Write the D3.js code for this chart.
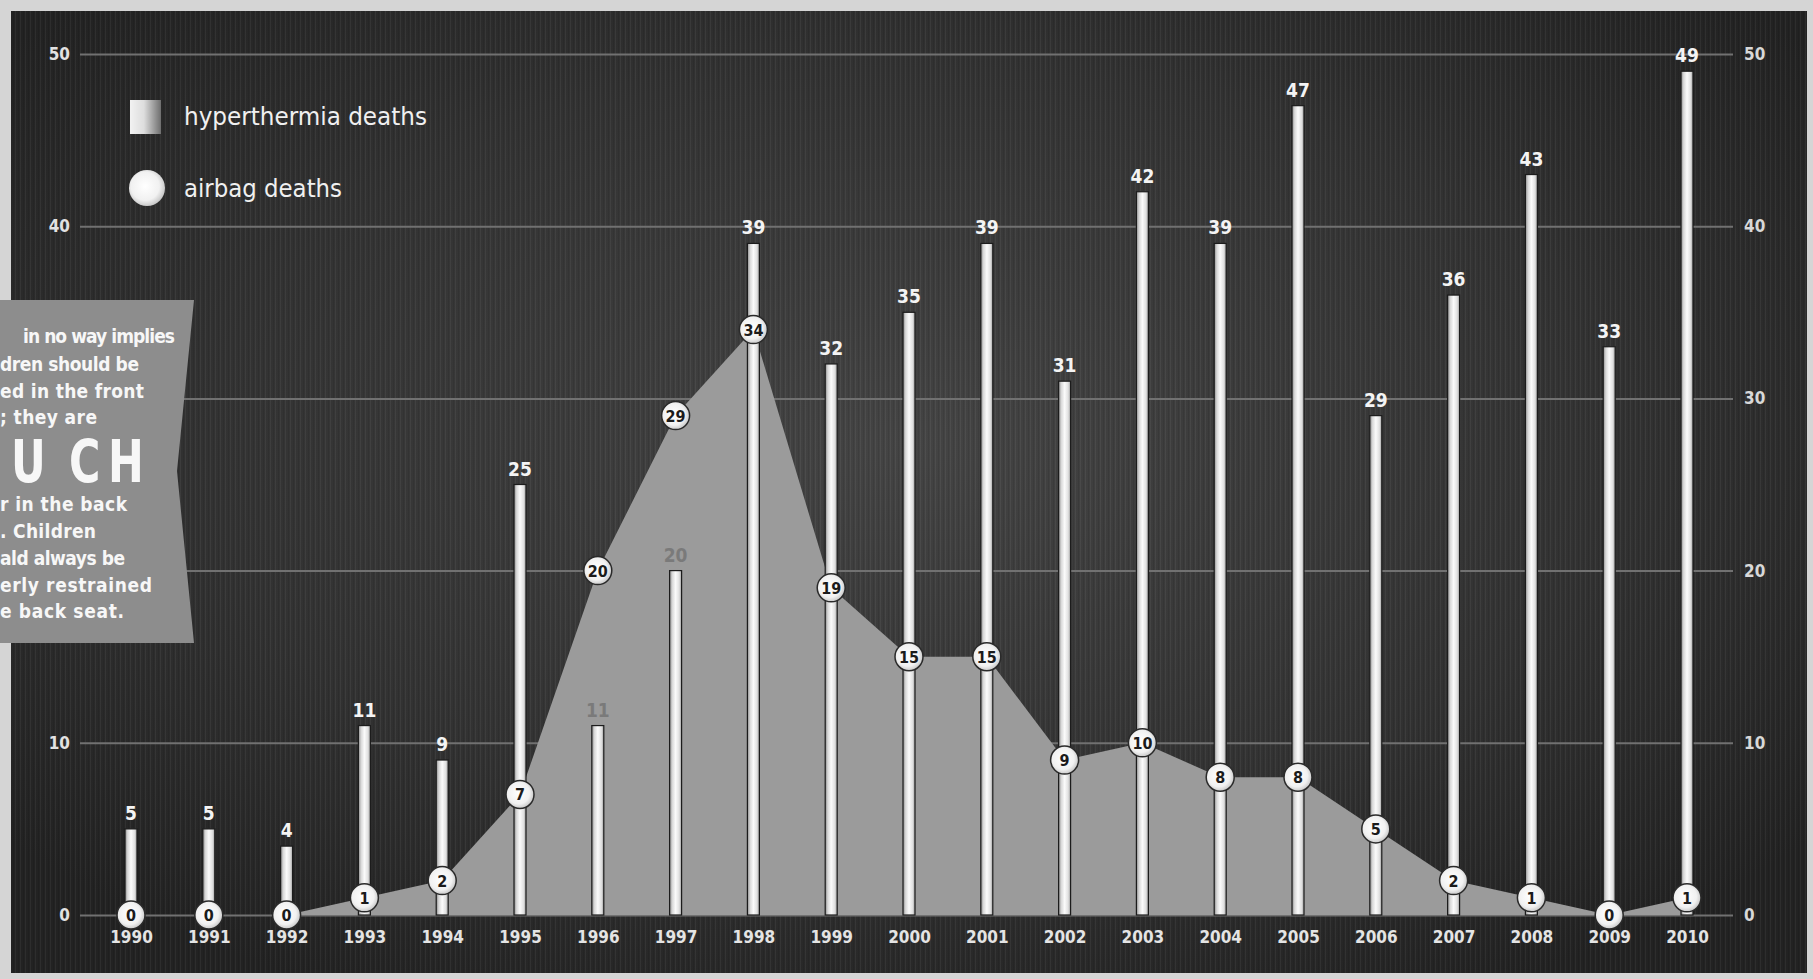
<!DOCTYPE html>
<html>
<head>
<meta charset="utf-8">
<script src="https://cdn.jsdelivr.net/npm/d3@7"></script>
<style>
  html, body { margin: 0; padding: 0; background: #d5d5d5; }
  svg { display: block; }
  text { font-family: "DejaVu Sans Condensed", "DejaVu Sans", sans-serif; }
</style>
</head>
<body>
<svg id="chart" width="1813" height="979"></svg>
<script>
// ---------- data ----------
const years = ["1990","1991","1992","1993","1994","1995","1996","1997","1998","1999","2000",
               "2001","2002","2003","2004","2005","2006","2007","2008","2009","2010"];
const hyperthermiaDeaths = [5,5,4,11,9,25,11,20,39,32,35,39,31,42,39,47,29,36,43,33,49];
const airbagDeaths = [0,0,0,1,2,7,20,29,34,19,15,15,9,10,8,8,5,2,1,0,1];
const yTickValues = [0,10,20,30,40,50];
const leftLabelValues = [0,10,40,50];   // 20 and 30 are hidden behind the callout box
const legendLabels = ["hyperthermia deaths", "airbag deaths"];
const calloutLines = ["in no way implies", "dren should be", "ed in the front", "; they are",
                      "UCH", "r in the back", ". Children", "ald always be", "erly restrained", "e back seat."];

// ---------- layout ----------
const W = 1813, H = 979;
const panel = {x: 11, y: 11, w: 1796, h: 962};
const svg = d3.select("#chart");
const defs = svg.append("defs");

const x = d3.scalePoint().domain(years).range([131, 1687]);
const y = d3.scaleLinear().domain([0, 50]).range([915, 54]);

// gradients
const bg = defs.append("radialGradient").attr("id", "bgGrad")
  .attr("cx", "50%").attr("cy", "45%").attr("r", "65%");
bg.append("stop").attr("offset", "0%").attr("stop-color", "#444444");
bg.append("stop").attr("offset", "60%").attr("stop-color", "#323232");
bg.append("stop").attr("offset", "100%").attr("stop-color", "#222222");

const tex = defs.append("pattern").attr("id", "texture").attr("patternUnits", "userSpaceOnUse")
  .attr("width", 5).attr("height", 7);
tex.append("rect").attr("x", 0).attr("y", 0).attr("width", 1).attr("height", 7).attr("fill", "rgba(255,255,255,0.05)");
tex.append("rect").attr("x", 3).attr("y", 0).attr("width", 1).attr("height", 7).attr("fill", "rgba(0,0,0,0.08)");

const barGrad = defs.append("linearGradient").attr("id", "barGrad").attr("x1", "0").attr("x2", "1").attr("y1", "0").attr("y2", "0");
[["0%", "#8a8a8a"], ["22%", "#d8d8d8"], ["50%", "#fbfbfb"], ["80%", "#e0e0e0"], ["100%", "#9e9e9e"]]
  .forEach(([o, c]) => barGrad.append("stop").attr("offset", o).attr("stop-color", c));

const legGrad = defs.append("linearGradient").attr("id", "legGrad").attr("x1", "0").attr("x2", "1");
[["0%", "#f2f2f2"], ["45%", "#dddddd"], ["100%", "#6e6e6e"]]
  .forEach(([o, c]) => legGrad.append("stop").attr("offset", o).attr("stop-color", c));

const dotGrad = defs.append("radialGradient").attr("id", "dotGrad").attr("cx", "45%").attr("cy", "45%").attr("r", "60%");
[["0%", "#ffffff"], ["65%", "#f1f1f1"], ["100%", "#bdbdbd"]]
  .forEach(([o, c]) => dotGrad.append("stop").attr("offset", o).attr("stop-color", c));

// panel
svg.append("rect").attr("x", 0).attr("y", 0).attr("width", W).attr("height", H).attr("fill", "#d5d5d5");
svg.append("rect").attr("x", panel.x).attr("y", panel.y).attr("width", panel.w).attr("height", panel.h).attr("fill", "url(#bgGrad)");
svg.append("rect").attr("x", panel.x).attr("y", panel.y).attr("width", panel.w).attr("height", panel.h).attr("fill", "url(#texture)");

// left axis with gridlines
const gridLeft = 80, gridRight = 1733;
const leftAxis = svg.append("g").attr("transform", `translate(${gridLeft},0)`)
  .call(d3.axisLeft(y).tickValues(yTickValues).tickSize(-(gridRight - gridLeft)).tickPadding(10)
    .tickFormat(v => leftLabelValues.includes(v) ? String(v) : ""));
leftAxis.select(".domain").remove();
leftAxis.selectAll(".tick line").attr("stroke", "#717171").attr("stroke-width", 2);
leftAxis.selectAll(".tick text").filter(function() { return this.textContent === ""; }).remove();
leftAxis.selectAll(".tick text").attr("fill", "#e2e2e2").attr("font-size", 17).attr("font-weight", "bold")
  .attr("font-family", "DejaVu Sans Condensed, sans-serif");

const rightAxis = svg.append("g").attr("transform", `translate(${gridRight},0)`)
  .call(d3.axisRight(y).tickValues(yTickValues).tickSize(0).tickPadding(11));
rightAxis.select(".domain").remove();
rightAxis.selectAll(".tick text").attr("fill", "#d8d8d8").attr("font-size", 17).attr("font-weight", "bold")
  .attr("font-family", "DejaVu Sans Condensed, sans-serif");

// airbag area
const rows = years.map((yr, i) => ({year: yr, hyper: hyperthermiaDeaths[i], airbag: airbagDeaths[i]}));
const area = d3.area().x(d => x(d.year)).y0(y(0)).y1(d => y(d.airbag));
svg.append("path").datum(rows).attr("d", area).attr("fill", "#9b9b9b");

// bars
const barW = 12;
svg.append("g").selectAll("rect").data(rows).join("rect")
  .attr("x", d => x(d.year) - barW / 2)
  .attr("y", d => y(d.hyper))
  .attr("width", barW)
  .attr("height", d => y(0) - y(d.hyper))
  .attr("fill", "url(#barGrad)")
  .attr("stroke", "#1c1c1c").attr("stroke-width", 1.2);

// bar value labels
svg.append("g").selectAll("text").data(rows).join("text")
  .attr("x", d => x(d.year))
  .attr("y", d => y(d.hyper) - 9)
  .attr("text-anchor", "middle")
  .attr("font-size", 19).attr("font-weight", "bold")
  .attr("fill", d => d.hyper < d.airbag ? "#7a7a7a" : "#f4f4f4")
  .text(d => d.hyper);

// airbag dots
const dots = svg.append("g").selectAll("g").data(rows).join("g")
  .attr("transform", d => `translate(${x(d.year)},${y(d.airbag)})`);
dots.append("circle").attr("r", 14).attr("fill", "url(#dotGrad)").attr("stroke", "#2a2a2a").attr("stroke-width", 1.5);
dots.append("text").attr("text-anchor", "middle").attr("y", 6)
  .attr("font-size", 16).attr("font-weight", "bold").attr("fill", "#1b1b1b")
  .text(d => d.airbag);

// x axis (years)
const xAxis = svg.append("g").attr("transform", `translate(0,${y(0)})`)
  .call(d3.axisBottom(x).tickSize(0).tickPadding(16));
xAxis.select(".domain").remove();
xAxis.selectAll(".tick text").attr("fill", "#e4e4e4").attr("font-size", 17).attr("font-weight", "bold")
  .attr("font-family", "DejaVu Sans Condensed, sans-serif");

// legend
const leg = svg.append("g");
leg.append("rect").attr("x", 130).attr("y", 100).attr("width", 31).attr("height", 34).attr("fill", "url(#legGrad)");
leg.append("text").attr("x", 184).attr("y", 125).attr("font-size", 24).attr("fill", "#f0f0f0")
  .attr("textLength", 243).attr("lengthAdjust", "spacingAndGlyphs").text(legendLabels[0]);
leg.append("circle").attr("cx", 147).attr("cy", 188).attr("r", 18).attr("fill", "url(#dotGrad)");
leg.append("text").attr("x", 184).attr("y", 197).attr("font-size", 24).attr("fill", "#f0f0f0")
  .attr("textLength", 158).attr("lengthAdjust", "spacingAndGlyphs").text(legendLabels[1]);

// callout box
const box = svg.append("g");
box.append("path").attr("d", "M0,300 L194,300 L177,471 L194,643 L0,643 Z").attr("fill", "#8d8d8d");
const bigScale = 0.82;
const lineSpec = [
  {x: 23, y: 343, w: 152}, {x: 0, y: 371, w: 139}, {x: 0, y: 398, w: 144}, {x: 0, y: 424, w: 97},
  {x: 12, y: 482, big: true, letterX: [11, 69, 108]},
  {x: 0, y: 511, w: 127}, {x: 0, y: 538, w: 96}, {x: 0, y: 565, w: 125}, {x: 0, y: 592, w: 152}, {x: 0, y: 618, w: 124}
];
box.selectAll("text").data(calloutLines).join("text")
  .attr("x", (d, i) => lineSpec[i].big ? lineSpec[i].x / bigScale : lineSpec[i].x)
  .attr("y", (d, i) => lineSpec[i].y)
  .attr("transform", (d, i) => lineSpec[i].big ? `scale(${bigScale},1)` : null)
  .attr("font-weight", "bold")
  .attr("font-size", (d, i) => lineSpec[i].big ? 58 : 19)
  .attr("fill", "#f7f7f7")
  .each(function(d, i) {
    const spec = lineSpec[i];
    const t = d3.select(this);
    if (spec.big) {
      t.selectAll("tspan").data(d.split("")).join("tspan")
        .attr("x", (c, j) => spec.letterX[j] / bigScale)
        .text(c => c);
    } else {
      t.attr("textLength", spec.w).attr("lengthAdjust", "spacing").text(d);
    }
  });
</script>
</body>
</html>
